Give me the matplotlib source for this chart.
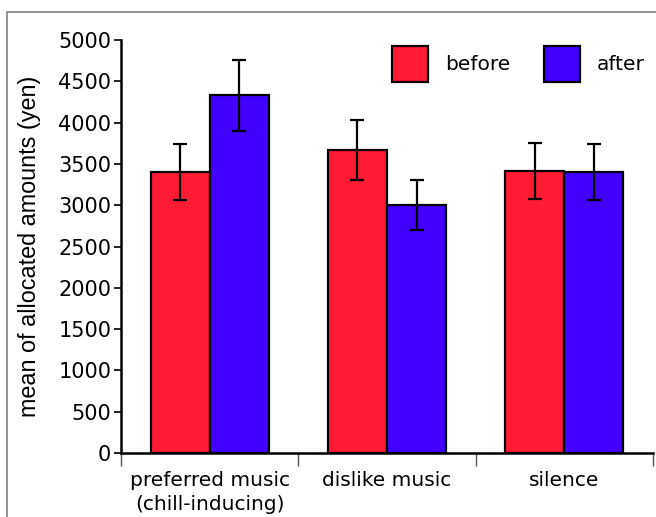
import numpy as np
import matplotlib
matplotlib.use("Agg")
import matplotlib.pyplot as plt
from matplotlib.patches import Rectangle

# data
groups = ["preferred music\n(chill-inducing)", "dislike music", "silence"]
before = [3400, 3670, 3410]
before_err = [340, 360, 340]
after = [4330, 3000, 3400]
after_err = [430, 300, 340]
yticks = [0, 500, 1000, 1500, 2000, 2500, 3000, 3500, 4000, 4500, 5000]

red = "#ff1b34"
blue = "#4200ff"

fig = plt.figure(figsize=(6.56, 5.17), dpi=100)
ax = fig.add_axes([121/656, 1 - 453/517, 532/656, 413/517])

x = np.arange(len(groups)) + 0.5
w = 1/3
ekw = dict(elinewidth=1.6, capthick=1.6, ecolor="black")
ax.bar(x - w/2, before, w, yerr=before_err, color=red, edgecolor="black",
       linewidth=1.6, capsize=5, error_kw=ekw, label="before")
ax.bar(x + w/2, after, w, yerr=after_err, color=blue, edgecolor="black",
       linewidth=1.6, capsize=5, error_kw=ekw, label="after")

ax.set_xlim(0, 3)
ax.set_ylim(0, 5000)
ax.set_yticks(yticks)
ax.set_xticks([0, 1, 2, 3])
ax.set_xticklabels([])
ax.set_xticks(x, minor=True)
ax.set_xticklabels(groups, minor=True, fontsize=14.5)
ax.tick_params(axis="x", which="major", length=9, width=1, color="#555555")
ax.tick_params(axis="x", which="minor", length=0, pad=13)
ax.tick_params(axis="y", length=5, width=1.2, labelsize=15, pad=2)
for lab in ax.get_xticklabels(minor=True):
    lab.set_linespacing(1.35)

for s in ["top", "right"]:
    ax.spines[s].set_visible(False)
ax.spines["left"].set_linewidth(1.8)
ax.spines["bottom"].set_linewidth(1.8)

ax.set_ylabel("mean of allocated amounts (yen)", fontsize=16.8,
              family="Liberation Sans")
ax.yaxis.set_label_coords(-0.15, 0.5)

leg = ax.legend(loc="upper left", bbox_to_anchor=((392 - 121) / 532, (453 - 46) / 413),
                ncol=2, frameon=False, fontsize=14.5, handlelength=1.8,
                handleheight=2.35, columnspacing=1.65, handletextpad=0.85,
                borderpad=0, borderaxespad=0)

# frame around the whole figure (cropped at right and bottom)
fig.patches.append(Rectangle((7/656, -0.1), 1.2, 1 - 12/517 + 0.1,
                             transform=fig.transFigure, fill=False,
                             edgecolor="#808080", linewidth=1.2))

fig.savefig("out.png", dpi=100)
